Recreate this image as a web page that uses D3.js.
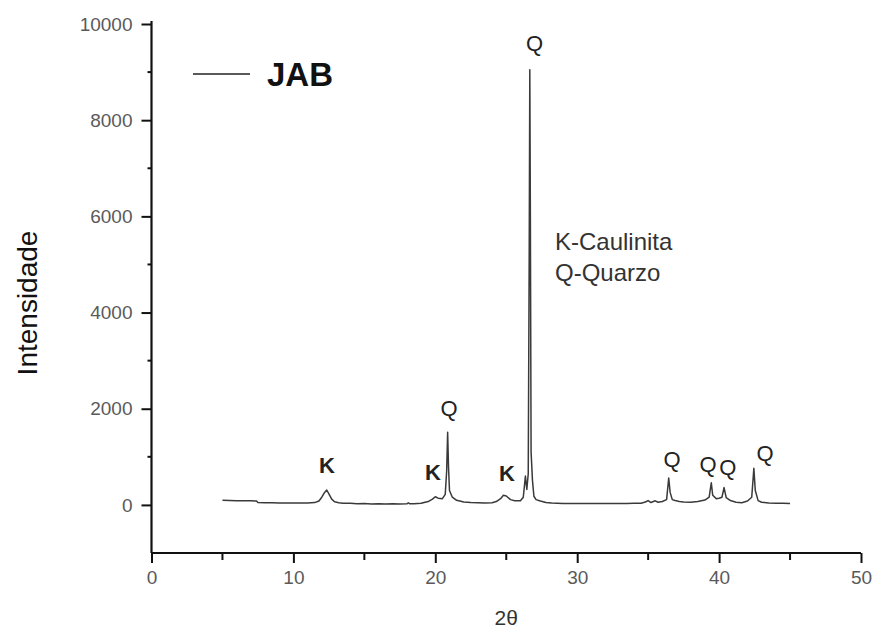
<!DOCTYPE html>
<html>
<head>
<meta charset="utf-8">
<script src="https://cdn.jsdelivr.net/npm/d3@7"></script>
<style>
  html, body { margin: 0; padding: 0; background: #fff; }
  svg { display: block; font-family: "Liberation Sans", Arial, sans-serif; }
</style>
</head>
<body>
<svg id="chart" width="877" height="635"></svg>
<script>
// Diffractogram of sample JAB: 2θ (degrees) and counts
const twoTheta = [
  5.0, 5.5, 6.0, 6.5, 7.0, 7.4, 7.5, 8.0, 8.5, 9.0, 9.5, 10.0, 10.5, 11.0, 11.5,
  11.8, 12.0, 12.2, 12.35, 12.5, 12.7, 12.9, 13.2, 13.5, 14.0, 14.5, 15.0, 15.5,
  16.0, 16.5, 17.0, 17.5, 18.0, 18.1, 18.2, 18.5, 19.0, 19.5, 19.8, 20.0, 20.2,
  20.5, 20.7, 20.8, 20.87, 20.93, 21.0, 21.2, 21.5, 21.8, 22.0, 22.5, 23.0, 23.5,
  24.0, 24.3, 24.6, 24.8, 25.0, 25.3, 25.6, 26.0, 26.2, 26.35, 26.45, 26.55,
  26.62, 26.66, 26.7, 26.75, 26.85, 26.95, 27.1, 27.4, 27.8, 28.2, 28.6, 29.0,
  29.5, 30.0, 30.5, 31.0, 31.5, 32.0, 32.5, 33.0, 33.5, 34.0, 34.5, 34.8, 35.0,
  35.2, 35.5, 35.7, 36.0, 36.3, 36.45, 36.55, 36.7, 36.9, 37.2, 37.5, 38.0, 38.5,
  39.0, 39.3, 39.45, 39.55, 39.8, 40.0, 40.2, 40.35, 40.5, 40.8, 41.2, 41.6, 42.0,
  42.3, 42.45, 42.55, 42.75, 43.0, 43.5, 44.0, 44.5, 45.0
];
const intensity = [
  95, 92, 88, 86, 84, 80, 48, 45, 44, 42, 42, 40, 40, 42, 48,
  80, 160, 260, 310, 230, 120, 65, 45, 35, 35, 25, 28, 20,
  22, 18, 25, 20, 22, 45, 22, 25, 35, 70, 120, 170, 140,
  130, 220, 700, 1510, 800, 300, 160, 95, 75, 60, 50, 45, 40,
  45, 70, 130, 200, 185, 110, 85, 85, 160, 600, 320, 650,
  5400, 9050, 6000, 1100, 500, 180, 110, 80, 50, 40, 35, 30,
  30, 28, 30, 28, 30, 28, 30, 28, 30, 32, 35, 60, 90,
  50, 85, 55, 70, 110, 560, 260, 110, 90, 70, 60, 55, 70,
  100, 160, 460, 200, 130, 140, 160, 360, 150, 90, 55, 45, 80,
  160, 760, 300, 90, 55, 40, 35, 32, 30
];

const xTickValues = [0, 10, 20, 30, 40, 50];
const xMinorValues = [5, 15, 25, 35, 45];
const yTickValues = [0, 2000, 4000, 6000, 8000, 10000];
const yMinorValues = [1000, 3000, 5000, 7000, 9000];

// Phase labels over the reflections: phase letter, 2θ, label baseline (counts)
const peakPhase = ["K", "K", "Q", "K", "Q", "Q", "Q", "Q", "Q"];
const peakPos   = [12.37, 19.84, 20.97, 25.05, 27.0, 36.68, 39.22, 40.62, 43.24];
const peakLabel = [663, 518, 1849, 497, 9439, 788, 684, 622, 913];

const seriesName = "JAB";
const phaseKey = ["K-Caulinita", "Q-Quarzo"];

const svg = d3.select("#chart");

const x = d3.scaleLinear().domain([0, 50]).range([151.5, 861]);
const y = d3.scaleLinear().domain([-1000, 10000]).range([553, 24]);

const tickColor = "#5a5a5a";

// Left axis
const yAxis = svg.append("g").attr("transform", `translate(${x(0)},0)`);
yAxis.call(d3.axisLeft(y).tickValues(yTickValues).tickSize(10).tickPadding(9).tickFormat(d3.format("d")))
  .call(g => g.select(".domain").attr("d", `M0,${y(-1000)}V${y(10000) - 3}`).attr("stroke", "#111").attr("stroke-width", 2.2))
  .call(g => g.selectAll(".tick line").attr("stroke", "#111").attr("stroke-width", 2))
  .call(g => g.selectAll(".tick text").attr("fill", tickColor).attr("font-size", 19)
    .attr("font-family", "Liberation Sans, Arial, sans-serif"));
yAxis.selectAll(".minor").data(yMinorValues).join("line")
  .attr("class", "minor")
  .attr("x1", -4).attr("x2", 0)
  .attr("y1", d => y(d)).attr("y2", d => y(d))
  .attr("stroke", "#111").attr("stroke-width", 2);

// Bottom axis
const xAxis = svg.append("g").attr("transform", `translate(0,${y(-1000)})`);
xAxis.call(d3.axisBottom(x).tickValues(xTickValues).tickSize(10).tickPadding(8).tickFormat(d3.format("d")))
  .call(g => g.select(".domain").attr("d", `M${x(0)},0H${x(50)}`).attr("stroke", "#111").attr("stroke-width", 2.2))
  .call(g => g.selectAll(".tick line").attr("stroke", "#111").attr("stroke-width", 2))
  .call(g => g.selectAll(".tick text").attr("fill", tickColor).attr("font-size", 19)
    .attr("font-family", "Liberation Sans, Arial, sans-serif"));
xAxis.selectAll(".minor").data(xMinorValues).join("line")
  .attr("class", "minor")
  .attr("x1", d => x(d)).attr("x2", d => x(d))
  .attr("y1", 1).attr("y2", 7)
  .attr("stroke", "#111").attr("stroke-width", 2);

// Axis titles
svg.append("text")
  .attr("transform", `translate(37,303) rotate(-90)`)
  .attr("text-anchor", "middle")
  .attr("font-size", 28)
  .attr("fill", "#111")
  .text("Intensidade");

svg.append("text")
  .attr("x", x(25)).attr("y", 625)
  .attr("text-anchor", "middle")
  .attr("font-size", 21)
  .attr("fill", "#333")
  .text("2θ");

// Pattern trace
const points = twoTheta.map((t, i) => ({ t, c: intensity[i] }));
const line = d3.line().x(d => x(d.t)).y(d => y(d.c));
svg.append("path")
  .datum(points)
  .attr("d", line)
  .attr("fill", "none")
  .attr("stroke", "#3a3a3a")
  .attr("stroke-width", 1.5)
  .attr("stroke-linejoin", "round");

// Phase markers
svg.append("g").selectAll("text").data(peakPhase).join("text")
  .attr("x", (d, i) => x(peakPos[i]))
  .attr("y", (d, i) => y(peakLabel[i]))
  .attr("text-anchor", "middle")
  .attr("font-size", 22)
  .attr("font-weight", d => d === "K" ? 700 : 400)
  .attr("fill", "#222")
  .text(d => d);

// Phase key
svg.append("g").selectAll("text").data(phaseKey).join("text")
  .attr("x", 555)
  .attr("y", (d, i) => 250 + i * 31)
  .attr("font-size", 24)
  .attr("fill", "#333")
  .text(d => d);

// Legend
const legend = svg.append("g");
legend.append("line")
  .attr("x1", 193).attr("x2", 250).attr("y1", 74).attr("y2", 74)
  .attr("stroke", "#222").attr("stroke-width", 1.6);
legend.append("text")
  .attr("x", 267).attr("y", 86)
  .attr("font-size", 33)
  .attr("font-weight", 700)
  .attr("fill", "#111")
  .text(seriesName);
</script>
</body>
</html>
